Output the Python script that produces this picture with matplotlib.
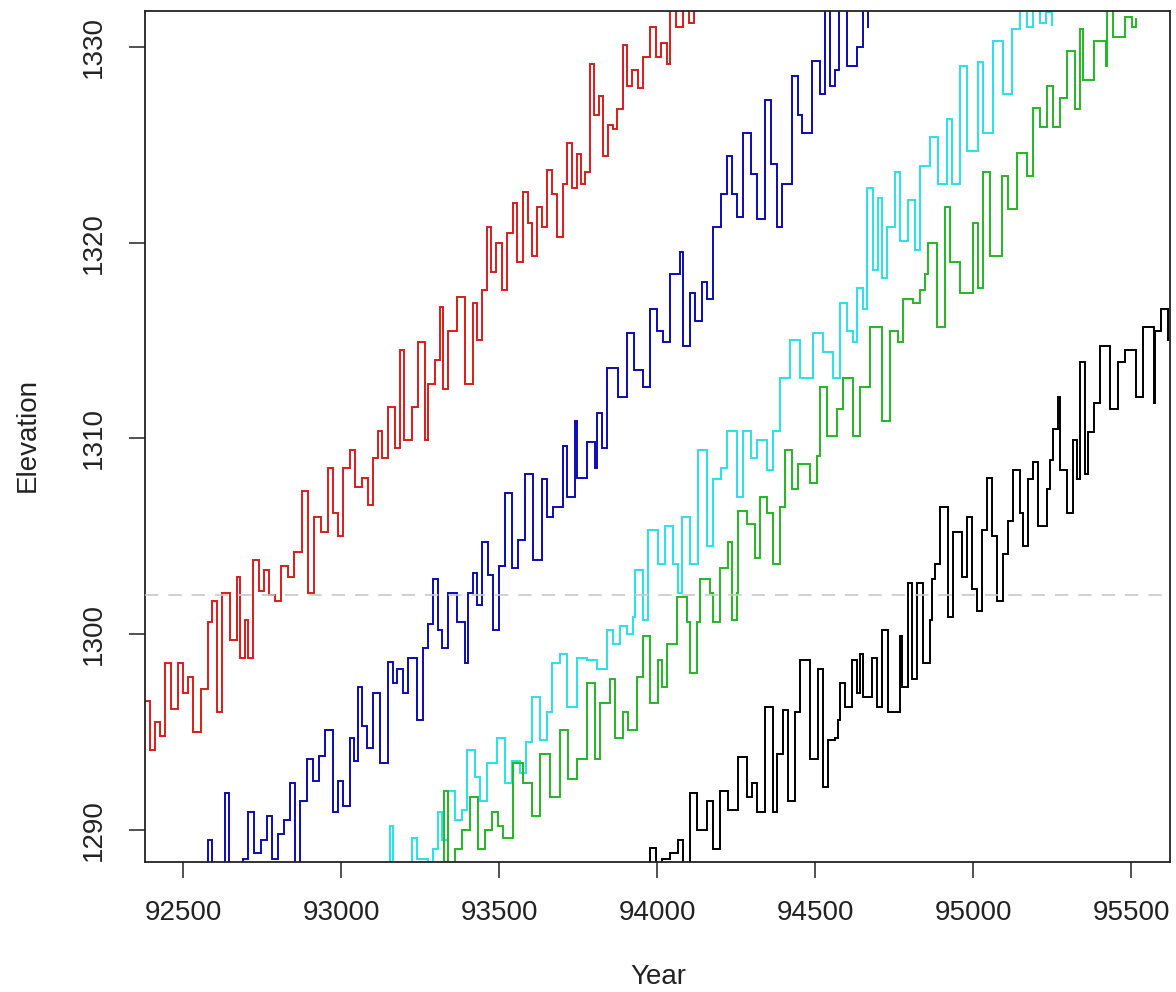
import matplotlib
matplotlib.use("Agg")
import matplotlib.pyplot as plt

# ---------------- data ----------------
red_year = [92379, 92395, 92410, 92425, 92442, 92460, 92483, 92500, 92515, 92531,
            92555, 92578, 92591, 92607, 92622, 92648, 92670, 92680, 92695, 92705,
            92722, 92740, 92755, 92770, 92790, 92810, 92830, 92850, 92876, 92895,
            92915, 92935, 92958, 92975, 92989, 93005, 93027, 93045, 93065, 93084,
            93100, 93116, 93130, 93147, 93170, 93185, 93200, 93224, 93242, 93264,
            93275, 93295, 93312, 93322, 93338, 93366, 93392, 93417, 93430, 93446,
            93461, 93475, 93490, 93509, 93525, 93544, 93557, 93576, 93590, 93604,
            93620, 93636, 93652, 93668, 93683, 93700, 93715, 93730, 93746, 93760,
            93771, 93787, 93800, 93815, 93829, 93845, 93860, 93873, 93892, 93905,
            93920, 93939, 93955, 93977, 93995, 94010, 94030, 94041, 94060, 94080,
            94100, 94115]
red_elev = [1296.6, 1294.1, 1295.5, 1294.8, 1298.5, 1296.2, 1298.5, 1297.0, 1297.8, 1295.0,
            1297.2, 1300.6, 1301.7, 1296.0, 1302.1, 1299.7, 1302.9, 1298.8, 1300.7, 1298.8,
            1303.8, 1302.2, 1303.3, 1302.0, 1301.7, 1303.5, 1302.9, 1304.2, 1307.3, 1302.1,
            1306.0, 1305.2, 1308.5, 1306.2, 1305.0, 1308.5, 1309.4, 1307.5, 1308.0, 1306.6,
            1309.0, 1310.4, 1309.0, 1311.6, 1309.5, 1314.5, 1309.9, 1311.6, 1314.9, 1309.9,
            1312.8, 1314.0, 1316.7, 1312.5, 1315.5, 1317.2, 1312.8, 1316.9, 1315.0, 1317.6,
            1320.8, 1318.5, 1320.0, 1317.6, 1320.5, 1322.0, 1319.0, 1322.6, 1321.0, 1319.3,
            1321.8, 1320.8, 1323.7, 1322.5, 1320.3, 1323.0, 1325.1, 1322.8, 1324.5, 1323.0,
            1323.6, 1329.1, 1326.5, 1327.5, 1324.4, 1326.0, 1325.8, 1326.8, 1330.1, 1328.0,
            1328.8, 1327.9, 1329.5, 1331.0, 1329.5, 1330.2, 1329.1, 1332.5, 1331.0, 1332.5,
            1331.2, 1333.0]

blue_year = [92560, 92578, 92590, 92620, 92632, 92645, 92670, 92690, 92705, 92725,
             92745, 92765, 92780, 92800, 92820, 92838, 92853, 92870, 92891, 92910,
             92930, 92950, 92974, 92990, 93005, 93027, 93040, 93053, 93065, 93081,
             93100, 93122, 93147, 93165, 93177, 93195, 93211, 93240, 93259, 93275,
             93290, 93306, 93319, 93338, 93366, 93392, 93401, 93417, 93430, 93446,
             93465, 93480, 93500, 93518, 93541, 93560, 93582, 93607, 93636, 93652,
             93671, 93702, 93715, 93740, 93746, 93778, 93803, 93810, 93825, 93841,
             93876, 93905, 93925, 93955, 93977, 94000, 94018, 94041, 94072, 94082,
             94104, 94120, 94140, 94158, 94177, 94200, 94221, 94237, 94253, 94272,
             94295, 94316, 94341, 94360, 94379, 94395, 94427, 94445, 94459, 94490,
             94515, 94531, 94547, 94563, 94575, 94600, 94633, 94652, 94665]
blue_elev = [1287.5, 1289.5, 1287.8, 1287.5, 1291.9, 1288.0, 1287.8, 1288.5, 1290.9, 1288.8,
             1289.5, 1290.7, 1288.5, 1289.8, 1290.5, 1292.4, 1288.0, 1291.5, 1293.6, 1292.5,
             1293.8, 1295.1, 1290.9, 1292.5, 1291.2, 1294.7, 1293.5, 1297.3, 1295.3, 1294.2,
             1297.0, 1293.4, 1298.6, 1297.5, 1298.2, 1297.0, 1298.8, 1295.6, 1299.3, 1300.5,
             1302.8, 1300.2, 1299.3, 1302.1, 1300.6, 1298.5, 1302.1, 1303.1, 1301.5, 1304.7,
             1303.0, 1300.2, 1303.5, 1307.2, 1303.4, 1304.8, 1308.2, 1303.8, 1307.9, 1306.0,
             1306.5, 1309.6, 1307.0, 1310.9, 1308.0, 1309.8, 1308.5, 1311.3, 1309.5, 1313.6,
             1312.1, 1315.4, 1313.5, 1312.6, 1316.6, 1315.5, 1314.9, 1318.4, 1319.5, 1314.7,
             1317.4, 1316.0, 1318.0, 1317.1, 1320.8, 1322.5, 1324.4, 1322.5, 1321.3, 1325.6,
             1323.5, 1321.2, 1327.3, 1324.0, 1320.8, 1323.0, 1328.5, 1326.5, 1325.6, 1329.3,
             1327.6, 1332.0, 1328.0, 1328.8, 1332.0, 1329.0, 1330.0, 1332.0, 1331.0]

cyan_year = [93060, 93090, 93120, 93147, 93155, 93165, 93200, 93224, 93240, 93275,
             93290, 93306, 93320, 93338, 93360, 93382, 93398, 93424, 93439, 93461,
             93493, 93518, 93540, 93566, 93585, 93604, 93629, 93650, 93667, 93693,
             93715, 93746, 93778, 93810, 93841, 93860, 93883, 93905, 93924, 93930,
             93955, 93971, 94003, 94025, 94050, 94066, 94079, 94104, 94129, 94158,
             94177, 94200, 94221, 94253, 94272, 94295, 94316, 94348, 94367, 94389,
             94420, 94452, 94493, 94525, 94557, 94579, 94600, 94620, 94633, 94652,
             94664, 94683, 94699, 94712, 94728, 94753, 94768, 94794, 94816, 94832,
             94864, 94889, 94917, 94933, 94958, 94981, 95015, 95031, 95063, 95095,
             95123, 95148, 95170, 95190, 95210, 95230, 95250]
cyan_elev = [1287.5, 1288.0, 1287.8, 1288.2, 1290.2, 1288.0, 1287.8, 1289.6, 1288.5, 1288.0,
             1289.0, 1290.9, 1289.5, 1292.0, 1290.5, 1291.0, 1294.1, 1292.7, 1291.5, 1293.4,
             1294.7, 1292.4, 1293.5, 1292.9, 1294.5, 1296.8, 1294.6, 1296.0, 1298.5, 1299.0,
             1296.3, 1298.8, 1298.7, 1298.2, 1300.2, 1299.5, 1300.4, 1300.0, 1300.9, 1303.3,
             1300.7, 1305.3, 1303.6, 1305.5, 1303.6, 1302.1, 1306.0, 1303.6, 1309.4, 1304.5,
             1307.9, 1308.5, 1310.4, 1307.0, 1310.4, 1309.0, 1309.9, 1308.4, 1310.4, 1313.1,
             1315.0, 1313.1, 1315.4, 1314.4, 1313.1, 1316.9, 1315.5, 1314.9, 1317.7, 1316.6,
             1322.8, 1318.6, 1322.3, 1318.2, 1320.8, 1323.6, 1320.1, 1322.2, 1319.6, 1323.9,
             1325.4, 1323.0, 1326.3, 1323.0, 1329.0, 1324.7, 1329.2, 1325.6, 1330.3, 1327.6,
             1330.9, 1331.9, 1331.0, 1332.2, 1331.2, 1331.8, 1331.1]

green_year = [93300, 93319, 93325, 93338, 93360, 93382, 93408, 93433, 93455, 93477,
              93495, 93512, 93544, 93576, 93604, 93629, 93661, 93693, 93718, 93746,
              93778, 93803, 93819, 93851, 93867, 93890, 93908, 93936, 93955, 93977,
              94003, 94015, 94031, 94063, 94094, 94104, 94126, 94136, 94167, 94177,
              94199, 94224, 94237, 94253, 94256, 94284, 94310, 94326, 94348, 94367,
              94389, 94405, 94427, 94446, 94484, 94506, 94515, 94537, 94569, 94588,
              94620, 94642, 94674, 94712, 94737, 94762, 94778, 94810, 94832, 94848,
              94857, 94886, 94911, 94927, 94958, 95000, 95015, 95031, 95053, 95091,
              95110, 95139, 95171, 95190, 95212, 95234, 95253, 95275, 95297, 95323,
              95338, 95348, 95380, 95418, 95424, 95443, 95481, 95503, 95513]
green_elev = [1287.5, 1288.0, 1292.0, 1288.0, 1289.0, 1290.0, 1291.7, 1289.0, 1290.0, 1290.9,
              1290.2, 1289.6, 1293.4, 1292.4, 1290.7, 1293.9, 1291.7, 1295.1, 1292.6, 1293.6,
              1297.5, 1293.6, 1296.5, 1297.7, 1294.7, 1296.0, 1295.1, 1297.8, 1299.9, 1296.5,
              1298.7, 1297.3, 1299.5, 1301.9, 1300.6, 1298.0, 1300.6, 1302.8, 1302.1, 1300.6,
              1303.4, 1304.7, 1300.7, 1302.1, 1306.3, 1305.6, 1303.9, 1307.0, 1306.2, 1303.6,
              1306.5, 1309.4, 1307.4, 1308.7, 1307.7, 1309.1, 1312.6, 1310.1, 1311.5, 1313.1,
              1310.1, 1312.6, 1315.7, 1310.9, 1315.5, 1314.9, 1317.1, 1316.9, 1317.6, 1318.4,
              1320.0, 1315.7, 1321.8, 1319.0, 1317.4, 1321.0, 1317.7, 1323.6, 1319.3, 1323.4,
              1321.7, 1324.6, 1323.4, 1326.9, 1325.9, 1328.0, 1325.9, 1327.4, 1329.8, 1326.8,
              1330.9, 1328.3, 1330.3, 1329.0, 1331.9, 1330.5, 1331.5, 1331.0, 1331.4]

black_year = [93971, 93977, 93995, 94015, 94040, 94066, 94080, 94104, 94126, 94158,
              94177, 94199, 94224, 94256, 94284, 94300, 94316, 94341, 94367, 94379,
              94398, 94414, 94436, 94452, 94484, 94509, 94525, 94541, 94563, 94573,
              94579, 94595, 94617, 94633, 94642, 94652, 94680, 94696, 94712, 94731,
              94768, 94775, 94794, 94806, 94822, 94841, 94864, 94870, 94879, 94895,
              94920, 94936, 94965, 94981, 94996, 95012, 95028, 95044, 95060, 95076,
              95095, 95110, 95126, 95148, 95158, 95174, 95190, 95205, 95234, 95243,
              95253, 95269, 95275, 95297, 95316, 95329, 95338, 95354, 95361, 95380,
              95402, 95433, 95456, 95481, 95513, 95538, 95570, 95576, 95592, 95617]
black_elev = [1288.0, 1289.1, 1288.2, 1288.5, 1288.8, 1289.5, 1288.0, 1291.9, 1290.0, 1291.5,
              1289.0, 1292.0, 1291.0, 1293.7, 1291.7, 1292.4, 1290.9, 1296.3, 1290.9, 1293.9,
              1296.1, 1291.5, 1296.0, 1298.7, 1293.6, 1298.2, 1292.2, 1294.6, 1294.7, 1295.6,
              1297.5, 1296.3, 1298.7, 1297.0, 1299.0, 1296.8, 1298.8, 1296.3, 1300.2, 1296.0,
              1299.9, 1297.3, 1302.6, 1297.7, 1302.6, 1298.5, 1300.7, 1302.8, 1303.6, 1306.5,
              1300.9, 1305.2, 1302.9, 1306.0, 1302.3, 1301.2, 1305.3, 1308.0, 1305.0, 1301.7,
              1304.1, 1305.8, 1308.4, 1306.2, 1304.5, 1307.9, 1308.8, 1305.5, 1307.4, 1308.9,
              1310.5, 1312.1, 1308.4, 1306.2, 1309.9, 1307.9, 1313.9, 1308.2, 1310.3, 1311.8,
              1314.7, 1311.5, 1313.9, 1314.5, 1312.1, 1315.7, 1311.8, 1315.5, 1316.6, 1315.0]

reference_level = 1302
x_ticks = [92500, 93000, 93500, 94000, 94500, 95000, 95500]
y_ticks = [1290, 1300, 1310, 1320, 1330]
x_label = "Year"
y_label = "Elevation"

# ---------------- figure ----------------
W, H = 1176, 992
fig = plt.figure(figsize=(W / 100, H / 100), dpi=100)
ax = fig.add_axes([145 / W, 130 / H, 1025 / W, 851 / H])

series = [
    (red_year, red_elev, "#dd1a1a"),
    (blue_year, blue_elev, "#0b0bb5"),
    (cyan_year, cyan_elev, "#26e2ea"),
    (green_year, green_elev, "#22b822"),
    (black_year, black_elev, "#000000"),
]
for yrs, elev, col in series:
    ax.plot(yrs, elev, color=col, lw=1.4, drawstyle="steps-post",
            solid_joinstyle="miter", zorder=2)

ax.axhline(reference_level, color="#c8c8c8", lw=1.2, ls=(0, (8, 6)), zorder=3)

ax.set_xlim(92379, 95622)
ax.set_ylim(1288.36, 1331.83)

ax.set_xticks(x_ticks)
ax.set_yticks(y_ticks)
ax.set_xticklabels([str(t) for t in x_ticks])
ax.set_yticklabels([str(t) for t in y_ticks], rotation=90, va="center")

tick_font = dict(family="Liberation Sans", size=20)
for lab in ax.get_xticklabels() + ax.get_yticklabels():
    lab.set_fontfamily("Liberation Sans")
    lab.set_fontsize(20)
    lab.set_color("#222222")

ax.tick_params(axis="both", direction="out", length=11.5, width=1.1,
               color="#222222", pad=16)
for sp in ax.spines.values():
    sp.set_linewidth(1.3)
    sp.set_color("#222222")

fig.text(658 / W, 1 - 977 / H, x_label, ha="center", va="center",
         fontfamily="Liberation Sans", fontsize=20, color="#222222")
fig.text(28 / W, 1 - 435 / H, y_label, ha="center", va="center", rotation=90,
         fontfamily="Liberation Sans", fontsize=20, color="#222222")

fig.savefig("out.png", dpi=100, facecolor="white")
